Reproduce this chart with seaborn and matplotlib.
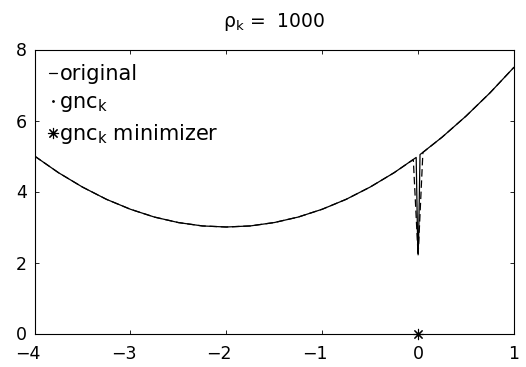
import matplotlib
matplotlib.use('Agg')
import numpy as np
import pandas as pd
import seaborn as sns
import matplotlib.pyplot as plt
from matplotlib.lines import Line2D
from matplotlib.transforms import ScaledTranslation

# ---- data ----
orig_x = [-4.0, -3.75, -3.5, -3.25, -3.0, -2.75, -2.5, -2.25, -2.0, -1.75, -1.5,
          -1.25, -1.0, -0.75, -0.5, -0.25, -0.02, -0.005, 0.0, 0.005, 0.02,
          0.25, 0.5, 0.75, 1.0]
orig_y = [5.0, 4.53, 4.125, 3.78, 3.5, 3.28, 3.125, 3.03, 3.0, 3.03, 3.125,
          3.28, 3.5, 3.78, 4.125, 4.53, 4.96, 2.6, 2.25, 2.6, 5.04,
          5.53, 6.125, 6.78, 7.5]

gnc_x = [-4.0, -3.75, -3.5, -3.25, -3.0, -2.75, -2.5, -2.25, -2.0, -1.75, -1.5,
         -1.25, -1.0, -0.75, -0.5, -0.25, -0.05, 0.0, 0.05,
         0.25, 0.5, 0.75, 1.0]
gnc_y = [5.0, 4.53, 4.125, 3.78, 3.5, 3.28, 3.125, 3.03, 3.0, 3.03, 3.125,
         3.28, 3.5, 3.78, 4.125, 4.53, 4.90, 2.2, 5.10,
         5.53, 6.125, 6.78, 7.5]

min_x = [0.0]
min_y = [0.0]

x_ticks = [-4, -3, -2, -1, 0, 1]
y_ticks = [0, 2, 4, 6, 8]
title_text = r'$\rho_k$ =  1000'
legend_labels = ['original', 'gnc$_k$', 'gnc$_k$ minimizer']

# ---- style ----
sns.set_style('ticks')
plt.rcParams['font.family'] = ['DejaVu Sans']
plt.rcParams['mathtext.fontset'] = 'custom'
plt.rcParams['mathtext.rm'] = 'DejaVu Sans'
plt.rcParams['mathtext.it'] = 'DejaVu Sans'
plt.rcParams['mathtext.default'] = 'regular'
plt.rcParams['text.color'] = 'k'
plt.rcParams['axes.labelcolor'] = 'k'
plt.rcParams['xtick.color'] = 'k'
plt.rcParams['ytick.color'] = 'k'

W, H = 526, 367
fig = plt.figure(figsize=(W / 100, H / 100), dpi=100)
left, right, top, bottom = 34.5, 514, 49.5, 333.5
ax = fig.add_axes([left / W, (H - bottom) / H, (right - left) / W, (bottom - top) / H])

df_o = pd.DataFrame({'x': orig_x, 'y': orig_y})
df_g = pd.DataFrame({'x': gnc_x, 'y': gnc_y})
df_m = pd.DataFrame({'x': min_x, 'y': min_y})

sns.lineplot(data=df_o, x='x', y='y', ax=ax, color='k', lw=0.9,
             sort=False, estimator=None)
sns.lineplot(data=df_g, x='x', y='y', ax=ax, color='k', lw=0.9,
             sort=False, estimator=None, linestyle=(0, (6, 3)))
sns.scatterplot(data=df_m, x='x', y='y', ax=ax, color='k', marker=(8, 2, 0),
                s=55, linewidth=0.8, clip_on=False, zorder=5)

ax.set_xlim(-4, 1)
ax.set_ylim(0, 8)
ax.set_xticks(x_ticks)
ax.set_yticks(y_ticks)
ax.set_xticklabels([str(v).replace('-', '\u2212') for v in x_ticks])
ax.set_yticklabels([str(v) for v in y_ticks])
ax.set_xlabel('')
ax.set_ylabel('')
for s in ax.spines.values():
    s.set_visible(True)
    s.set_color('k')
    s.set_linewidth(0.8)
ax.tick_params(direction='in', length=3, width=0.6, top=True, right=True,
               labelsize=12.5, colors='k')
ax.tick_params(axis='x', pad=8)
ax.tick_params(axis='y', pad=5.5)
ax.set_title(title_text, fontsize=13.5, pad=16, color='k')

# MATLAB centres the digit on the tick, minus sign hanging to the left
for t in ax.xaxis.get_major_ticks():
    if t.get_loc() < 0:
        t.label1.set_transform(t.label1.get_transform() +
                               ScaledTranslation(-0.07, 0, fig.dpi_scale_trans))

handles = [
    Line2D([], [], color='k', lw=0.9),
    Line2D([], [], color='k', marker='.', ms=2, ls='none'),
    Line2D([], [], color='k', marker=(8, 2, 0), ms=8, mew=0.8, ls='none'),
]
leg = ax.legend(handles, legend_labels, loc='upper left', frameon=False, fontsize=15,
                handlelength=0.4, handletextpad=0.1, labelspacing=0.38,
                borderaxespad=0.0, borderpad=0.7)
for txt in leg.get_texts():
    txt.set_color('k')

fig.savefig('out.png', dpi=100)
